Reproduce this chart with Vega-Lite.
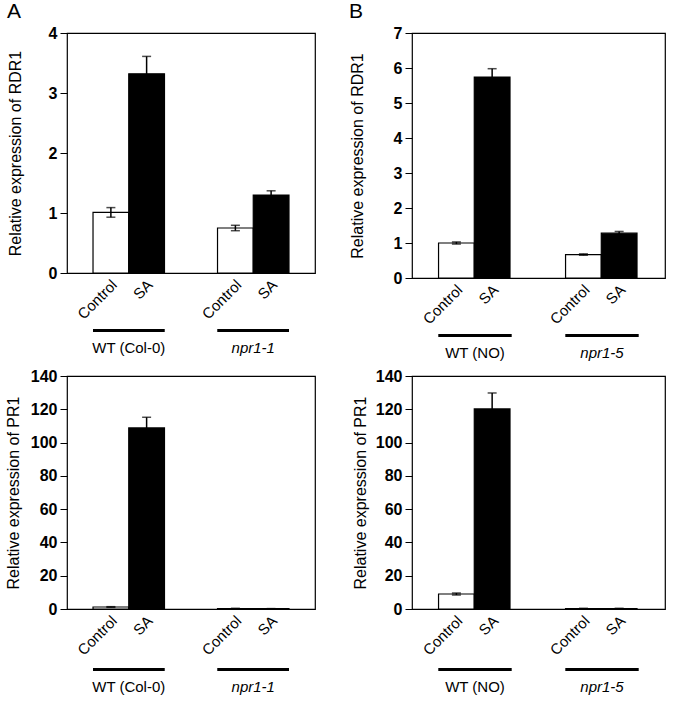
{
  "$schema": "https://vega.github.io/schema/vega-lite/v6.json",
  "background": "white",
  "padding": {"left": 4, "top": 0, "right": 5, "bottom": 2},
  "config": {
    "font": "Liberation Sans",
    "view": {"stroke": "black", "strokeWidth": 1.2},
    "axis": {"grid": false, "labelColor": "black", "titleColor": "black", "tickColor": "black", "domainColor": "black"},
    "title": {"fontSize": 21, "fontWeight": "normal", "anchor": "start", "frame": "bounds", "color": "black", "offset": 3}
  },
  "datasets": {
    "expr": [
      {"panel": "A1", "genotype": "WT (Col-0)", "treatment": "Control", "value": 1.01, "err": 0.08},
      {"panel": "A1", "genotype": "WT (Col-0)", "treatment": "SA", "value": 3.32, "err": 0.29},
      {"panel": "A1", "genotype": "npr1-1", "treatment": "Control", "value": 0.75, "err": 0.045},
      {"panel": "A1", "genotype": "npr1-1", "treatment": "SA", "value": 1.30, "err": 0.07},
      {"panel": "B1", "genotype": "WT (NO)", "treatment": "Control", "value": 1.0, "err": 0.03},
      {"panel": "B1", "genotype": "WT (NO)", "treatment": "SA", "value": 5.74, "err": 0.24},
      {"panel": "B1", "genotype": "npr1-5", "treatment": "Control", "value": 0.67, "err": 0.02},
      {"panel": "B1", "genotype": "npr1-5", "treatment": "SA", "value": 1.28, "err": 0.05},
      {"panel": "A2", "genotype": "WT (Col-0)", "treatment": "Control", "value": 1.2, "err": 0.2},
      {"panel": "A2", "genotype": "WT (Col-0)", "treatment": "SA", "value": 108.8, "err": 6.4},
      {"panel": "A2", "genotype": "npr1-1", "treatment": "Control", "value": 0.3, "err": 0.05},
      {"panel": "A2", "genotype": "npr1-1", "treatment": "SA", "value": 0.2, "err": 0.03},
      {"panel": "B2", "genotype": "WT (NO)", "treatment": "Control", "value": 9.0, "err": 0.6},
      {"panel": "B2", "genotype": "WT (NO)", "treatment": "SA", "value": 120.2, "err": 9.6},
      {"panel": "B2", "genotype": "npr1-5", "treatment": "Control", "value": 0.3, "err": 0.05},
      {"panel": "B2", "genotype": "npr1-5", "treatment": "SA", "value": 0.3, "err": 0.05}
    ]
  },
  "data": {"name": "expr"},
  "columns": 2,
  "spacing": {"column": 32, "row": 6},
  "concat": [
    {
      "width": 248, "height": 240,
      "title": {"text": "A"},
      "transform": [{"filter": "datum.panel == 'A1'"}],
      "encoding": {
        "x": {"field": "genotype", "type": "nominal", "sort": null,
          "scale": {"paddingInner": 0.426, "paddingOuter": 0.209},
          "axis": {"title": null, "ticks": false, "domain": false, "labelAngle": 0, "labelPadding": 67, "labelFontSize": 15, "labelBaseline": "top",
            "labelFontStyle": {"condition": {"test": "indexof(datum.value, 'npr1') >= 0", "value": "italic"}, "value": "normal"}}},
        "xOffset": {"field": "treatment", "type": "nominal", "sort": ["Control", "SA"], "scale": {"paddingInner": 0, "paddingOuter": 0}},
        "y": {"field": "value", "type": "quantitative", "scale": {"domain": [0, 4]},
          "axis": {"values": [0, 1, 2, 3, 4], "format": "d", "title": "Relative expression of RDR1", "titleFontSize": 16, "titleFontWeight": "normal", "titlePadding": 25, "labelFontSize": 16, "labelFontWeight": "bold", "tickSize": 7, "domain": false, "labelPadding": 3}}
      },
      "layer": [
        {"mark": {"type": "bar", "stroke": "black", "strokeWidth": 1.2},
         "encoding": {
           "fill": {"field": "treatment", "type": "nominal", "scale": {"domain": ["Control", "SA"], "range": ["white", "black"]}, "legend": null}
         }},
        {"mark": {"type": "errorbar", "ticks": {"size": 9}, "color": "black", "thickness": 1.5},
         "encoding": {"yError": {"field": "err"}}},
        {"mark": {"type": "text", "angle": -45, "align": "right", "baseline": "middle", "fontSize": 15, "dx": 5},
         "encoding": {"y": {"value": 253}, "text": {"field": "treatment"}}},
        {"mark": {"type": "bar", "color": "black"},
         "encoding": {"xOffset": null, "y": {"value": 296}, "y2": {"value": 299}}}
      ]
    },
    {
      "width": 253, "height": 245,
      "title": {"text": "B"},
      "transform": [{"filter": "datum.panel == 'B1'"}],
      "encoding": {
        "x": {"field": "genotype", "type": "nominal", "sort": null,
          "scale": {"paddingInner": 0.426, "paddingOuter": 0.209},
          "axis": {"title": null, "ticks": false, "domain": false, "labelAngle": 0, "labelPadding": 67, "labelFontSize": 15, "labelBaseline": "top",
            "labelFontStyle": {"condition": {"test": "indexof(datum.value, 'npr1') >= 0", "value": "italic"}, "value": "normal"}}},
        "xOffset": {"field": "treatment", "type": "nominal", "sort": ["Control", "SA"], "scale": {"paddingInner": 0, "paddingOuter": 0}},
        "y": {"field": "value", "type": "quantitative", "scale": {"domain": [0, 7]},
          "axis": {"values": [0, 1, 2, 3, 4, 5, 6, 7], "format": "d", "title": "Relative expression of RDR1", "titleFontSize": 16, "titleFontWeight": "normal", "titlePadding": 28, "labelFontSize": 16, "labelFontWeight": "bold", "tickSize": 7, "domain": false, "labelPadding": 3}}
      },
      "layer": [
        {"mark": {"type": "bar", "stroke": "black", "strokeWidth": 1.2},
         "encoding": {
           "fill": {"field": "treatment", "type": "nominal", "scale": {"domain": ["Control", "SA"], "range": ["white", "black"]}, "legend": null}
         }},
        {"mark": {"type": "errorbar", "ticks": {"size": 9}, "color": "black", "thickness": 1.5},
         "encoding": {"yError": {"field": "err"}}},
        {"mark": {"type": "text", "angle": -45, "align": "right", "baseline": "middle", "fontSize": 15, "dx": 5},
         "encoding": {"y": {"value": 258}, "text": {"field": "treatment"}}},
        {"mark": {"type": "bar", "color": "black"},
         "encoding": {"xOffset": null, "y": {"value": 301}, "y2": {"value": 304}}}
      ]
    },
    {
      "width": 248, "height": 233,
      "transform": [{"filter": "datum.panel == 'A2'"}],
      "encoding": {
        "x": {"field": "genotype", "type": "nominal", "sort": null,
          "scale": {"paddingInner": 0.426, "paddingOuter": 0.209},
          "axis": {"title": null, "ticks": false, "domain": false, "labelAngle": 0, "labelPadding": 70, "labelFontSize": 15, "labelBaseline": "top",
            "labelFontStyle": {"condition": {"test": "indexof(datum.value, 'npr1') >= 0", "value": "italic"}, "value": "normal"}}},
        "xOffset": {"field": "treatment", "type": "nominal", "sort": ["Control", "SA"], "scale": {"paddingInner": 0, "paddingOuter": 0}},
        "y": {"field": "value", "type": "quantitative", "scale": {"domain": [0, 140]},
          "axis": {"values": [0, 20, 40, 60, 80, 100, 120, 140], "format": "d", "title": "Relative expression of PR1", "titleFontSize": 16, "titleFontWeight": "normal", "titlePadding": 9, "labelFontSize": 16, "labelFontWeight": "bold", "tickSize": 7, "domain": false, "labelPadding": 3}}
      },
      "layer": [
        {"mark": {"type": "bar", "stroke": "black", "strokeWidth": 1.2},
         "encoding": {
           "fill": {"field": "treatment", "type": "nominal", "scale": {"domain": ["Control", "SA"], "range": ["white", "black"]}, "legend": null}
         }},
        {"mark": {"type": "errorbar", "ticks": {"size": 9}, "color": "black", "thickness": 1.5},
         "encoding": {"yError": {"field": "err"}}},
        {"mark": {"type": "text", "angle": -45, "align": "right", "baseline": "middle", "fontSize": 15, "dx": 5},
         "encoding": {"y": {"value": 246}, "text": {"field": "treatment"}}},
        {"mark": {"type": "bar", "color": "black"},
         "encoding": {"xOffset": null, "y": {"value": 292}, "y2": {"value": 295}}}
      ]
    },
    {
      "width": 253, "height": 233,
      "transform": [{"filter": "datum.panel == 'B2'"}],
      "encoding": {
        "x": {"field": "genotype", "type": "nominal", "sort": null,
          "scale": {"paddingInner": 0.426, "paddingOuter": 0.209},
          "axis": {"title": null, "ticks": false, "domain": false, "labelAngle": 0, "labelPadding": 70, "labelFontSize": 15, "labelBaseline": "top",
            "labelFontStyle": {"condition": {"test": "indexof(datum.value, 'npr1') >= 0", "value": "italic"}, "value": "normal"}}},
        "xOffset": {"field": "treatment", "type": "nominal", "sort": ["Control", "SA"], "scale": {"paddingInner": 0, "paddingOuter": 0}},
        "y": {"field": "value", "type": "quantitative", "scale": {"domain": [0, 140]},
          "axis": {"values": [0, 20, 40, 60, 80, 100, 120, 140], "format": "d", "title": "Relative expression of PR1", "titleFontSize": 16, "titleFontWeight": "normal", "titlePadding": 7, "labelFontSize": 16, "labelFontWeight": "bold", "tickSize": 7, "domain": false, "labelPadding": 3}}
      },
      "layer": [
        {"mark": {"type": "bar", "stroke": "black", "strokeWidth": 1.2},
         "encoding": {
           "fill": {"field": "treatment", "type": "nominal", "scale": {"domain": ["Control", "SA"], "range": ["white", "black"]}, "legend": null}
         }},
        {"mark": {"type": "errorbar", "ticks": {"size": 9}, "color": "black", "thickness": 1.5},
         "encoding": {"yError": {"field": "err"}}},
        {"mark": {"type": "text", "angle": -45, "align": "right", "baseline": "middle", "fontSize": 15, "dx": 5},
         "encoding": {"y": {"value": 246}, "text": {"field": "treatment"}}},
        {"mark": {"type": "bar", "color": "black"},
         "encoding": {"xOffset": null, "y": {"value": 292}, "y2": {"value": 295}}}
      ]
    }
  ]
}
